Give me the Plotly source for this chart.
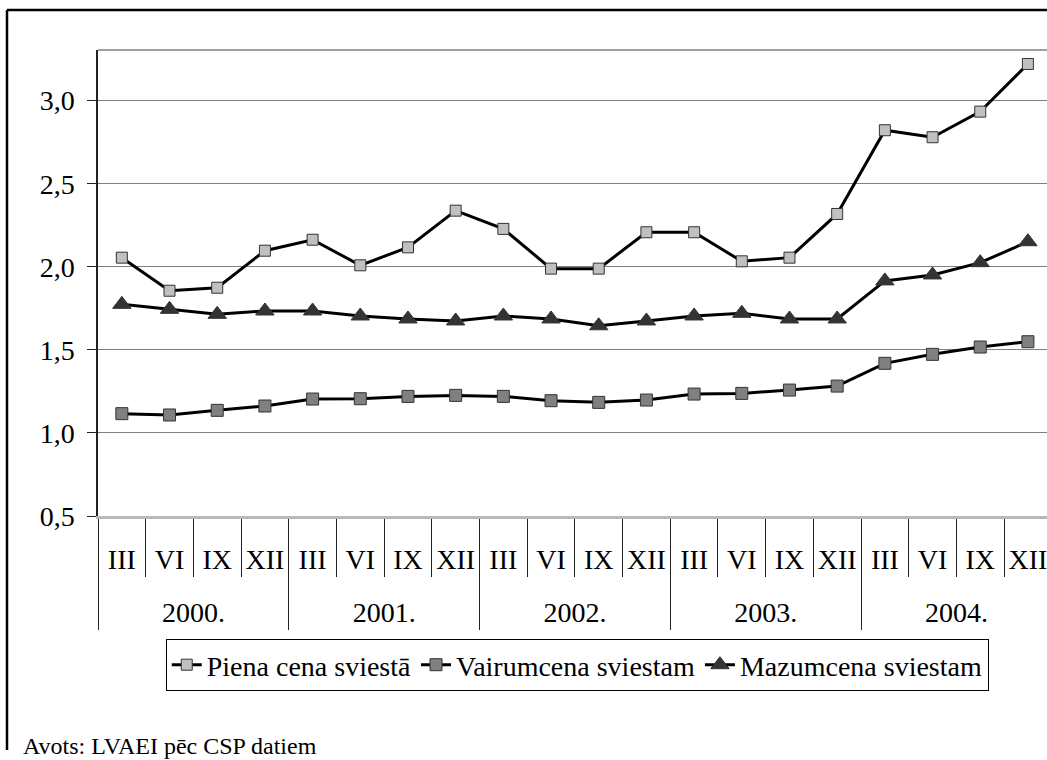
import plotly.graph_objects as go

W, H = 1047, 760
# plot area in pixels
L, T, B = 98, 50, 244

years = ["2000.", "2001.", "2002.", "2003.", "2004."]
quarters = ["III", "VI", "IX", "XII"]

piena_cena = [2.055, 1.856, 1.874, 2.097, 2.163, 2.009, 2.117, 2.338, 2.228, 1.989,
              1.989, 2.208, 2.208, 2.033, 2.055, 2.318, 2.822, 2.780, 2.934, 3.221]
vairumcena = [1.116, 1.108, 1.136, 1.162, 1.204, 1.206, 1.220, 1.226, 1.220, 1.194,
              1.184, 1.198, 1.234, 1.238, 1.258, 1.282, 1.419, 1.473, 1.517, 1.549]
mazumcena = [1.774, 1.744, 1.714, 1.734, 1.734, 1.704, 1.686, 1.674, 1.704, 1.686,
             1.645, 1.674, 1.704, 1.720, 1.686, 1.686, 1.915, 1.951, 2.025, 2.151]

y_ticks = [0.5, 1.0, 1.5, 2.0, 2.5, 3.0]

# an empty second line under each quarter label pushes the year row down
x_years = [y for y in years for _ in quarters]
x_quarters = [q + "<br>\u00a0" for _ in years for q in quarters]

FONT = "Liberation Serif, Times New Roman, serif"


def px(xp):
    return (xp - L) / (W - L)


def py(yp):
    return (H - B - yp) / (H - B - T)


fig = go.Figure()

series = [
    ("Piena cena sviestā", piena_cena, "square", 11, "#c0c0c0"),
    ("Vairumcena sviestam", vairumcena, "square", 12, "#808080"),
    ("Mazumcena sviestam", mazumcena, "triangle-up", 16, "#333333"),
]
for name, vals, sym, size, col in series:
    fig.add_trace(go.Scatter(
        x=[x_years, x_quarters], y=vals, name=name, mode="lines+markers",
        line=dict(color="black", width=3),
        marker=dict(symbol=sym, size=size, color=col,
                    line=dict(color="#333333", width=1)),
    ))

fig.update_layout(
    width=W, height=H,
    margin=dict(l=L, r=0, t=T, b=B),
    paper_bgcolor="white", plot_bgcolor="white",
    font=dict(family=FONT, size=28, color="black"),
    separators=", ",
    showlegend=True,
    legend=dict(orientation="h", x=0.505, xanchor="center", y=py(665), yanchor="middle",
                bordercolor="black", borderwidth=1,
                font=dict(family=FONT, size=28, color="black"),
                itemwidth=30, tracegroupgap=0),
)

fig.update_xaxes(
    type="multicategory", range=[-0.5, 19.4], tickangle=0,
    showline=True, linecolor="#b8b8b8", linewidth=3,
    ticks="outside", ticklen=58, tickcolor="#222222", tickwidth=1,
    tickson="boundaries", ticklabelstandoff=16,
    showdividers=True, dividercolor="#222222", dividerwidth=1,
    showgrid=False, tickfont=dict(family=FONT, size=28, color="black"),
)
fig.update_yaxes(
    range=[0.5, 3.305], tickvals=y_ticks, tickformat=".1f",
    showgrid=True, gridcolor="#808080", gridwidth=1,
    showline=True, linecolor="#222222", linewidth=1.5,
    ticks="outside", ticklen=9, tickcolor="#222222", ticklabelstandoff=7,
    zeroline=False, tickfont=dict(family=FONT, size=28, color="black"),
)

# plot-area top border and outer chart frame
fig.add_shape(type="line", xref="paper", yref="paper", x0=0, x1=1, y0=1, y1=1,
              line=dict(color="#808080", width=1.5))
fig.add_shape(type="line", xref="paper", yref="paper", x0=px(7), x1=px(7), y0=py(10), y1=py(750),
              line=dict(color="black", width=2.5))
fig.add_shape(type="line", xref="paper", yref="paper", x0=px(7), x1=px(1050), y0=py(10), y1=py(10),
              line=dict(color="black", width=2.5))

fig.add_annotation(text="Avots: LVAEI pēc CSP datiem", xref="paper", yref="paper",
                   x=px(21), y=py(746), xanchor="left", yanchor="middle",
                   showarrow=False, font=dict(family=FONT, size=24, color="black"))

fig.write_html("out.html", config={"displayModeBar": False},
               post_script="document.body.style.margin='0';")
